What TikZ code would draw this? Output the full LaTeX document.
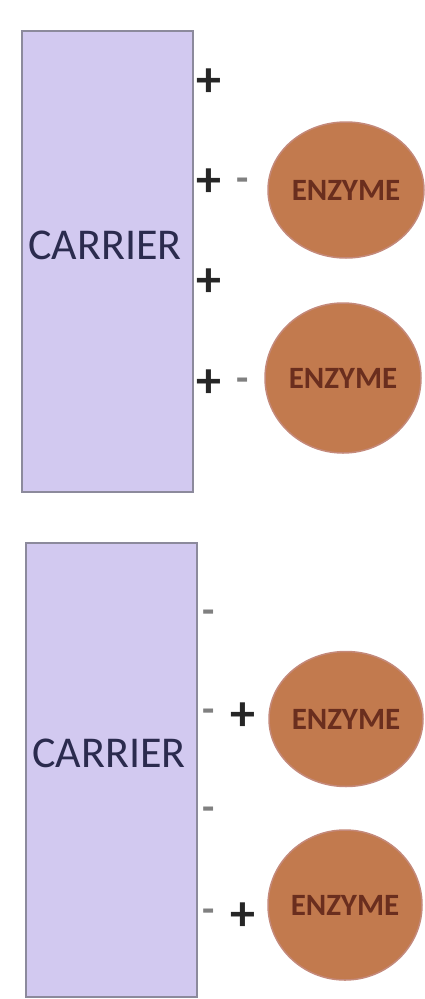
\documentclass[tikz,border=0pt]{standalone}
\usepackage{fontspec}
\setmainfont{Carlito}
\usetikzlibrary{shapes.geometric}
\definecolor{carfill}{HTML}{D2C9F0}
\definecolor{cardraw}{HTML}{8C8A9C}
\definecolor{enzfill}{HTML}{C27A4E}
\definecolor{enzdraw}{HTML}{C4897A}
\definecolor{enztext}{HTML}{6A2E1E}
\definecolor{cartext}{HTML}{2B2B4E}
\tikzset{
  carrier/.style={draw=cardraw, line width=2.6pt, fill=carfill, minimum width=171pt, inner sep=0pt},
  enzyme/.style={ellipse, draw=enzdraw, line width=1.5pt, fill=enzfill, inner sep=0pt, text=enztext, font=\fontsize{31}{31}\selectfont\bfseries},
  carlabel/.style={text=cartext, font=\fontsize{44}{44}\selectfont},
  plus/.style={font=\fontsize{50}{50}\selectfont\bfseries, text=black!85, inner sep=0pt},
  minus/.style={font=\fontsize{40}{40}\selectfont\bfseries, text=black!50, inner sep=0pt},
}
\begin{document}
\begin{tikzpicture}[x=1pt,y=-1pt]
\useasboundingbox (0,0) rectangle (424,999);
% top panel
\node[carrier, minimum height=461pt] (c1) at (107.5,261.5) {};
\node[carlabel] (l1) at (105,245) {CARRIER};
\node[plus] (p1) at (209,83) {+};
\node[plus] (p2) at (209,183) {+};
\node[plus] (p3) at (209,283) {+};
\node[plus] (p4) at (209,384) {+};
\node[minus] (m1) at (243,185) {-};
\node[minus] (m2) at (243,385) {-};
\node[enzyme, minimum width=156pt, minimum height=136pt] (e1) at (346,190) {ENZYME};
\node[enzyme, minimum width=156pt, minimum height=150pt] (e2) at (343,378) {ENZYME};
% bottom panel
\node[carrier, minimum height=454pt] (c2) at (111.5,770) {};
\node[carlabel] (l2) at (109,753) {CARRIER};
\node[minus] (n1) at (209,617) {-};
\node[minus] (n2) at (209,716) {-};
\node[minus] (n3) at (209,814) {-};
\node[minus] (n4) at (209,916) {-};
\node[plus] (q1) at (243,717) {+};
\node[plus] (q2) at (243,917) {+};
\node[enzyme, minimum width=154pt, minimum height=135pt] (e3) at (346,719) {ENZYME};
\node[enzyme, minimum width=154pt, minimum height=150pt] (e4) at (345,905) {ENZYME};
\end{tikzpicture}
\end{document}
